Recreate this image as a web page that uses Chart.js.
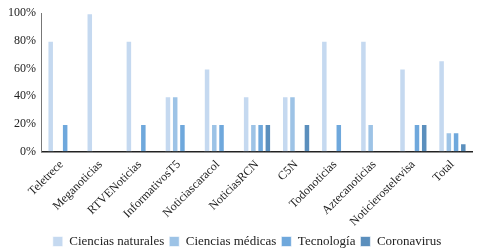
<!DOCTYPE html>
<html><head><meta charset="utf-8">
<script src="https://cdn.jsdelivr.net/npm/chart.js@4"></script>
<style>html,body{margin:0;padding:0;background:#fff}#w{width:477px;height:251px}</style>
</head><body><div id="w"><canvas id="c"></canvas></div>
<script>
const categories = ["Teletrece","Meganoticias","RTVENoticias","InformativosT5","Noticiascaracol","NoticiasRCN","C5N","Todonoticias","Aztecanoticias","Noticierostelevisa","Total"];
const cienciasNaturales = [80,100,80,40,60,40,40,80,80,60,66];
const cienciasMedicas   = [0,0,0,40,20,20,40,0,20,0,14];
const tecnologia        = [20,0,20,20,20,20,0,20,0,20,14];
const coronavirus       = [0,0,0,0,0,20,20,0,0,20,6];
const yTicks = [0,20,40,60,80,100];

const FAM = "'Liberation Serif', 'Times New Roman', serif";
const mk = (label, data, color) => ({label, data, backgroundColor: color, borderColor: 'rgba(255,255,255,0.6)', borderWidth: 1, categoryPercentage: 0.74, barPercentage: 0.9});
Chart.defaults.font.family = FAM;
Chart.defaults.color = '#222';
const shiftLegend = {
  id: 'shiftLegend',
  afterLayout(chart) {
    if (chart.legend) { chart.legend.left += 10; chart.legend.right += 10; }
  }
};
new Chart(document.getElementById('c'), {
  type: 'bar',
  data: { labels: categories, datasets: [
    mk('Ciencias naturales', cienciasNaturales, '#c5d9f0'),
    mk('Ciencias médicas', cienciasMedicas, '#9dc3e6'),
    mk('Tecnología', tecnologia, '#6fa8dc'),
    mk('Coronavirus', coronavirus, '#5b8fbd')
  ]},
  plugins: [shiftLegend],
  options: {
    responsive: true, maintainAspectRatio: false, animation: false,
    layout: { padding: { left: 2, right: 5, top: -6, bottom: -7 } },
    plugins: {
      tooltip: { enabled: false },
      legend: { position: 'bottom', labels: { boxWidth: 10, boxHeight: 10, padding: 5, font: { family: FAM, size: 13 }, color: '#222' } }
    },
    scales: {
      x: {
        afterFit: (s) => { s.height -= 5; },
        grid: { display: false, drawTicks: false },
        border: { color: '#222', width: 1.5 },
        ticks: { maxRotation: 45, minRotation: 45, autoSkip: false, padding: 6, font: { family: FAM, size: 12 }, color: '#222' }
      },
      y: {
        min: 0, max: 100,
        afterBuildTicks: (s) => { s.ticks = yTicks.map(v => ({value: v})); },
        grid: { display: false, drawTicks: false },
        border: { color: '#777', width: 1 },
        ticks: { callback: v => v + '%', padding: 6, font: { family: FAM, size: 12 }, color: '#222' }
      }
    }
  }
});
</script></body></html>
